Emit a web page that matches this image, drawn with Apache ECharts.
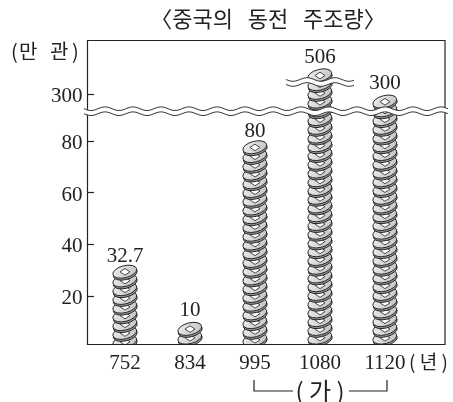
<!DOCTYPE html>
<html><head><meta charset="utf-8">
<style>html,body{margin:0;padding:0;background:#fff}#c{width:453px;height:402px}</style>
<script src="https://cdn.jsdelivr.net/npm/echarts@6/dist/echarts.min.js"></script></head>
<body><div id="c"></div>
<script>
const years = ['752','834','995','1080','1120'];
const coinage = [32.7, 10, 80, 506, 300];
const yTicks = [20,40,60,80,300];
const title = '〈중국의   동전   주조량〉';
const serif = '"Liberation Serif"';
const kr = '"Noto Sans CJK KR"';
const ink = '#222';

function wavePts(x0,x1,y,period,amp){
  const pts=[];
  for(let x=x0;x<=x1;x+=1) pts.push([x,y+amp*Math.sin((x-x0)/period*2*Math.PI)]);
  return pts;
}
function waveBand(x0,x1,y1,y2,period,amp){
  const a=wavePts(x0,x1,y1,period,amp), b=wavePts(x0,x1,y2,period,amp);
  return [
   {type:'polygon',shape:{points:a.concat(b.slice().reverse())},style:{fill:'#fff'},z:50},
   {type:'polyline',shape:{points:a},style:{fill:'none',stroke:'#3a3a3a',lineWidth:1},z:52},
   {type:'polyline',shape:{points:b},style:{fill:'none',stroke:'#3a3a3a',lineWidth:1},z:52}
  ];
}
const coinSvg = '<svg xmlns="http://www.w3.org/2000/svg" width="104" height="76" viewBox="0 0 26 19">'+
 '<defs><linearGradient id="g" x1="0" y1="0" x2="1" y2="0.5"><stop offset="0" stop-color="#efefef"/><stop offset="1" stop-color="#c8c8c8"/></linearGradient></defs>'+
 '<g transform="rotate(-14 13 9.5)">'+
 '<ellipse cx="13" cy="10.6" rx="12.2" ry="6" fill="#9a9a9a" stroke="#222" stroke-width="0.9"/>'+
 '<ellipse cx="13" cy="8.6" rx="12.2" ry="6" fill="url(#g)" stroke="#222" stroke-width="0.9"/>'+
 '</g><path d="M13 5.5 L18 8.8 L13 12.1 L8 8.8 Z" fill="#fff" stroke="#222" stroke-width="0.8"/></svg>';
const coin = 'image://data:image/svg+xml;charset=utf-8,'+encodeURIComponent(coinSvg);

const chart = echarts.init(document.getElementById('c'),null,{renderer:'canvas'});
chart.setOption({
  animation:false,
  backgroundColor:'#fff',
  title:{text:title,left:263,top:3,textAlign:'center',textStyle:{fontFamily:kr,fontWeight:'normal',fontSize:22,color:ink}},
  grid:{left:92.5,top:40.5,width:325,height:307.5,show:false},
  xAxis:{type:'category',data:years,
    axisLine:{show:false},axisTick:{show:false},
    axisLabel:{fontFamily:serif,fontSize:21,color:ink,margin:5}},
  yAxis:{type:'value',min:0,max:516.6,offset:5,
    breaks:[{start:90,end:295,gap:3.1},{start:302,end:500,gap:2}],
    breakArea:{show:false},
    splitLine:{show:false},
    axisLine:{show:false},
    axisTick:{show:true,inside:true,length:6.5,lineStyle:{color:ink,width:1.2},customValues:yTicks},
    axisLabel:{fontFamily:serif,fontSize:21,color:ink,margin:5,verticalAlign:'top',lineHeight:5,customValues:yTicks,formatter:v=>String(v)}},
  series:[{type:'pictorialBar',barWidth:'40%',
    data:coinage.map((v,i)=>({value:v,symbolOffset:[0,[4,0,2,0,0][i]],label:{offset:[0,[3,0,2,0,0][i]]}})),
    symbol:coin,symbolRepeat:true,symbolSize:[26,19],symbolMargin:-5,symbolPosition:'start',
    silent:true,z:3,
    label:{show:true,position:'top',distance:-1,fontFamily:serif,fontSize:21,color:ink}
  }],
  graphic:[
    {type:'rect',shape:{x:88,y:345,width:356,height:6},style:{fill:'#fff'},z:40},
    {type:'rect',shape:{x:87.5,y:40.5,width:357.5,height:304},style:{fill:'none',stroke:ink,lineWidth:1.2},z:45},
    ...waveBand(84,448,108.7,113.7,28,1.8),
    ...waveBand(286,354,79.5,84.5,28,1.8),
    {type:'text',style:{x:11,y:51,text:'(',verticalAlign:'middle',fontFamily:kr,fontSize:20,fill:ink}},
    {type:'text',style:{x:19,y:51,text:'만',verticalAlign:'middle',fontFamily:kr,fontSize:20,fill:ink}},
    {type:'text',style:{x:50,y:51,text:'관',verticalAlign:'middle',fontFamily:kr,fontSize:20,fill:ink}},
    {type:'text',style:{x:72,y:51,text:')',verticalAlign:'middle',fontFamily:kr,fontSize:20,fill:ink}},
    {type:'text',style:{x:409,y:362,text:'( 년 )',verticalAlign:'middle',fontFamily:kr,fontSize:19,fill:ink}},
    {type:'text',style:{x:320,y:391,text:'( 가 )',textAlign:'center',verticalAlign:'middle',fontFamily:kr,fontSize:24,fill:ink}},
    {type:'polyline',shape:{points:[[254,380],[254,391],[293,391]]},style:{fill:'none',stroke:ink,lineWidth:1.2}},
    {type:'polyline',shape:{points:[[349,391],[387,391],[387,380]]},style:{fill:'none',stroke:ink,lineWidth:1.2}}
  ]
});
</script></body></html>
